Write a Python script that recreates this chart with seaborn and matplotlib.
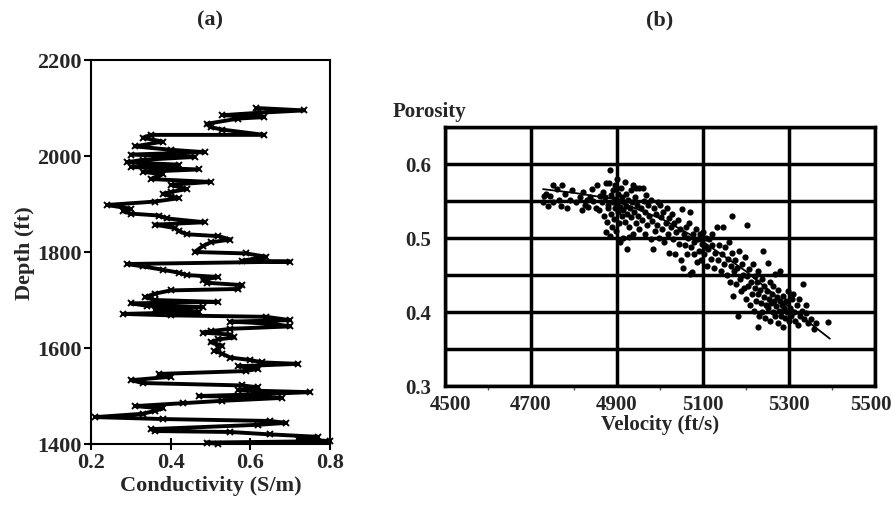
import matplotlib
matplotlib.use("Agg")
import matplotlib.pyplot as plt
import matplotlib.transforms as mtransforms
import seaborn as sns
import numpy as np
import pandas as pd
from matplotlib.ticker import MultipleLocator

# ---------------- Panel (a): conductivity log ----------------
depth = [2100, 2095, 2090, 2085, 2081, 2078, 2067, 2060, 2055, 2044, 2044, 2038,
         2030, 2020, 2013, 2008, 2003, 1998, 1992, 1987, 1982, 1977, 1972, 1967,
         1962, 1952, 1946, 1940, 1931, 1925, 1921, 1912, 1905, 1898, 1890, 1885,
         1880, 1876, 1870, 1862, 1857, 1850, 1844, 1837, 1833, 1826, 1820, 1812,
         1800, 1797, 1790, 1782, 1780, 1775, 1770, 1763, 1757, 1752, 1748, 1742,
         1736, 1731, 1723, 1720, 1713, 1706, 1700, 1696, 1693, 1688, 1685, 1680,
         1675, 1671, 1668, 1665, 1658, 1655, 1650, 1645, 1640, 1635, 1632, 1628,
         1622, 1618, 1612, 1605, 1600, 1594, 1588, 1580, 1575, 1570, 1567, 1562,
         1557, 1552, 1546, 1540, 1533, 1527, 1522, 1518, 1512, 1508, 1503, 1500,
         1496, 1490, 1485, 1479, 1474, 1469, 1463, 1456, 1452, 1448, 1444, 1440,
         1431, 1427, 1425, 1420, 1415, 1410, 1406, 1403, 1400]
conductivity = [0.615, 0.735, 0.62, 0.53, 0.635, 0.57, 0.49, 0.50, 0.53, 0.635, 0.35, 0.33,
                0.38, 0.31, 0.40, 0.485, 0.30, 0.46, 0.33, 0.29, 0.42, 0.30, 0.47, 0.33,
                0.38, 0.35, 0.50, 0.40, 0.44, 0.40, 0.38, 0.42, 0.36, 0.24, 0.30, 0.28,
                0.30, 0.37, 0.39, 0.485, 0.36, 0.41, 0.42, 0.44, 0.52, 0.55, 0.50, 0.48,
                0.46, 0.59, 0.64, 0.58, 0.70, 0.29, 0.33, 0.38, 0.42, 0.44, 0.52, 0.48,
                0.49, 0.58, 0.57, 0.40, 0.36, 0.335, 0.36, 0.52, 0.30, 0.34, 0.48, 0.36,
                0.47, 0.28, 0.40, 0.64, 0.70, 0.55, 0.66, 0.70, 0.55, 0.50, 0.48, 0.55,
                0.56, 0.52, 0.50, 0.53, 0.52, 0.51, 0.53, 0.55, 0.60, 0.63, 0.72, 0.57,
                0.62, 0.59, 0.37, 0.40, 0.30, 0.33, 0.58, 0.62, 0.57, 0.75, 0.60, 0.47,
                0.68, 0.53, 0.43, 0.31, 0.38, 0.36, 0.33, 0.21, 0.38, 0.65, 0.69, 0.62,
                0.35, 0.36, 0.55, 0.65, 0.77, 0.72, 0.80, 0.49, 0.52]

# ---------------- Panel (b): porosity vs velocity ----------------
velocity = [
    4728, 4730, 4735, 4745, 4751, 4740, 4760, 4770, 4772, 4783, 4790, 4795, 4765, 4778, 4752,
    4805, 4814, 4820, 4826, 4833, 4838, 4845, 4853, 4850, 4858, 4842, 4860, 4830, 4818,
    4865, 4868, 4870, 4872, 4875, 4877, 4878, 4880, 4882, 4884, 4884, 4885, 4887, 4888, 4890,
    4891, 4893, 4895, 4896, 4898, 4900, 4900, 4902, 4903, 4905, 4906, 4908, 4910, 4911, 4912,
    4914, 4915, 4917, 4918, 4920, 4921, 4923, 4924, 4926, 4928, 4930, 4932, 4933, 4935, 4937,
    4938, 4940, 4942, 4944, 4945, 4947, 4948, 4950, 4874, 4896, 4908, 4919, 4929,
    4952, 4955, 4957, 4960, 4962, 4964, 4966, 4968, 4970, 4972, 4975, 4978, 4980, 4982, 4984,
    4986, 4988, 4990, 4993, 4995, 4998, 5000, 5002, 5005, 5008, 5010, 5013, 5016, 5018, 5020,
    5022, 5025, 5028, 5030, 5033, 5036, 5038, 5041, 5044, 5047, 5049,
    5051, 5053, 5055, 5057, 5060, 5062, 5065, 5068, 5070, 5070, 5072, 5074, 5076, 5078, 5080,
    5083, 5085, 5088, 5090, 5092, 5095, 5098, 5100, 5102, 5105, 5108, 5110, 5112, 5115, 5118,
    5120, 5122, 5125, 5128, 5132, 5135, 5138, 5142, 5145, 5147, 5149,
    5152, 5155, 5158, 5160, 5162, 5165, 5167, 5168, 5170, 5172, 5175, 5177, 5180, 5181, 5183,
    5185, 5188, 5190, 5192, 5195, 5198, 5200, 5202, 5203, 5205, 5208, 5210, 5212, 5214, 5216,
    5218, 5220, 5222, 5224, 5226, 5228, 5228, 5229,
    5231, 5233, 5235, 5237, 5238, 5240, 5241, 5243, 5245, 5246, 5248, 5250, 5251, 5253, 5255,
    5256, 5258, 5260, 5262, 5263, 5265, 5267, 5268, 5270, 5272, 5274, 5275, 5277, 5279, 5280,
    5282, 5284, 5286, 5287, 5289, 5291, 5293, 5295, 5297, 5299,
    5302, 5305, 5308, 5312, 5315, 5318, 5323, 5326, 5330, 5333, 5336, 5340, 5345, 5350, 5357,
    5362, 5391, 5320, 5310, 5340]
porosity = [
    0.549, 0.557, 0.560, 0.557, 0.572, 0.543, 0.566, 0.543, 0.571, 0.541, 0.552, 0.565, 0.552, 0.560, 0.548,
    0.548, 0.556, 0.562, 0.545, 0.542, 0.555, 0.550, 0.571, 0.540, 0.538, 0.566, 0.557, 0.551, 0.538,
    0.548, 0.562, 0.530, 0.555, 0.575, 0.522, 0.545, 0.540, 0.575, 0.592, 0.503, 0.558, 0.533, 0.515, 0.548,
    0.565, 0.526, 0.553, 0.540, 0.510, 0.580, 0.545, 0.535, 0.560, 0.520, 0.550, 0.542, 0.568, 0.530, 0.555,
    0.500, 0.538, 0.548, 0.522, 0.560, 0.543, 0.485, 0.532, 0.552, 0.515, 0.540, 0.565, 0.528, 0.548, 0.572,
    0.505, 0.535, 0.555, 0.568, 0.520, 0.545, 0.530, 0.512, 0.508, 0.572, 0.495, 0.576, 0.502,
    0.568, 0.540, 0.525, 0.568, 0.550, 0.505, 0.535, 0.558, 0.518, 0.545, 0.530, 0.498, 0.552, 0.523, 0.485,
    0.540, 0.510, 0.533, 0.518, 0.548, 0.500, 0.545, 0.528, 0.512, 0.535, 0.495, 0.520, 0.540, 0.505, 0.527,
    0.480, 0.515, 0.532, 0.498, 0.520, 0.478, 0.508, 0.525, 0.492, 0.512, 0.470,
    0.539, 0.460, 0.505, 0.490, 0.515, 0.478, 0.500, 0.520, 0.535, 0.451, 0.488, 0.454, 0.505, 0.478, 0.495,
    0.512, 0.468, 0.498, 0.482, 0.505, 0.470, 0.492, 0.508, 0.478, 0.488, 0.500, 0.462, 0.485, 0.498, 0.472,
    0.490, 0.505, 0.460, 0.480, 0.515, 0.470, 0.490, 0.455, 0.478, 0.515, 0.465,
    0.488, 0.450, 0.472, 0.495, 0.440, 0.462, 0.530, 0.480, 0.422, 0.455, 0.470, 0.438, 0.460, 0.395, 0.482,
    0.445, 0.428, 0.465, 0.450, 0.432, 0.475, 0.418, 0.517, 0.448, 0.435, 0.458, 0.410, 0.440, 0.425, 0.465,
    0.402, 0.432, 0.448, 0.415, 0.440, 0.380, 0.425, 0.455,
    0.395, 0.430, 0.412, 0.445, 0.400, 0.482, 0.420, 0.435, 0.392, 0.410, 0.428, 0.466, 0.405, 0.418, 0.440,
    0.388, 0.412, 0.425, 0.400, 0.435, 0.415, 0.395, 0.452, 0.408, 0.420, 0.385, 0.430, 0.402, 0.415, 0.455,
    0.395, 0.410, 0.380, 0.422, 0.405, 0.392, 0.415, 0.400, 0.428, 0.388,
    0.405, 0.395, 0.418, 0.400, 0.388, 0.410, 0.418, 0.395, 0.402, 0.438, 0.390, 0.398, 0.385, 0.390, 0.377,
    0.385, 0.387, 0.382, 0.425, 0.410]

fit_velocity = [4728, 4800, 4890, 4930, 5007, 5100, 5200, 5300, 5395]
fit_porosity = [0.566, 0.561, 0.553, 0.543, 0.525, 0.495, 0.455, 0.407, 0.364]

vel_ticks = [4500, 4700, 4900, 5100, 5300, 5500]
vel_minor = [4600, 4800, 5000, 5200, 5400]
por_ticks = [0.3, 0.4, 0.5, 0.6]
por_minor = [0.35, 0.45, 0.55, 0.65]

# ---------------- Drawing ----------------
sns.set_theme(style="white")
plt.rcParams['font.family'] = ['Liberation Serif', 'DejaVu Serif']
plt.rcParams['font.weight'] = 'bold'
FS = 16
FSB = 15

fig = plt.figure(figsize=(8.93, 5.06), dpi=100)
W, H = 893.0, 506.0

# Panel (a)
axa = fig.add_axes([91 / W, 1 - 445 / H, (330 - 91) / W, (445 - 61) / H])
dfa = pd.DataFrame({"Conductivity": conductivity, "Depth": depth})
sns.lineplot(data=dfa, x="Conductivity", y="Depth", sort=False, estimator=None,
             color="black", lw=2.8, marker="x", markersize=5, mew=1.4,
             mec="black", ax=axa, clip_on=False)
axa.set_xlim(0.2, 0.8)
axa.set_ylim(1400, 2200)
axa.set_xticks([0.2, 0.4, 0.6, 0.8])
axa.set_xticklabels(["0.2", "0.4", "0.6", "0.8"])
axa.yaxis.set_major_locator(MultipleLocator(200))
axa.set_xlabel("Conductivity (S/m)", fontsize=FS, fontweight="bold", labelpad=2)
axa.set_ylabel("Depth (ft)", fontsize=FS, fontweight="bold", labelpad=1)
for s in axa.spines.values():
    s.set_color("black")
    s.set_linewidth(1.5)
axa.tick_params(axis="both", which="major", direction="out", length=5, width=1.5,
                color="black", labelsize=FS, pad=2, bottom=True, left=True)
axa.tick_params(axis="x", direction="inout", length=8)
for lab in axa.get_xticklabels() + axa.get_yticklabels():
    lab.set_fontweight("bold")
axa.grid(False)

# Panel (b)
axb = fig.add_axes([445 / W, 1 - 387 / H, (875 - 445) / W, (387 - 128) / H])
dfb = pd.DataFrame({"Velocity": velocity, "Porosity": porosity})
sns.scatterplot(data=dfb, x="Velocity", y="Porosity", color="black", s=20,
                linewidth=0, ax=axb, zorder=3)
dff = pd.DataFrame({"v": fit_velocity, "p": fit_porosity})
sns.lineplot(data=dff, x="v", y="p", color="black", lw=1.3, ax=axb, zorder=4)
axb.set_xlim(4500, 5500)
axb.set_ylim(0.3, 0.65)
axb.set_xticks(vel_ticks)
axb.set_xticks(vel_minor, minor=True)
axb.set_xticklabels([str(v) for v in vel_ticks])
axb.set_yticks(por_ticks)
axb.set_yticks(por_minor, minor=True)
axb.set_yticklabels(["0.3", "0.4", "0.5", "0.6"])
axb.grid(True, which="both", axis="y", color="black", lw=2.5)
axb.grid(True, which="major", axis="x", color="black", lw=2.5)
axb.set_axisbelow(True)
for s in axb.spines.values():
    s.set_color("black")
    s.set_linewidth(2.5)
axb.tick_params(axis="y", which="both", length=0, labelsize=FSB, pad=10)
axb.tick_params(axis="x", which="major", length=0, labelsize=FSB, pad=6)
axb.tick_params(axis="x", which="minor", direction="out", length=3, width=1,
                color="#555555", bottom=True)
for lab in axb.get_xticklabels() + axb.get_yticklabels():
    lab.set_fontweight("bold")
# nudge end labels so they don't collide with the "0.3" label / figure edge
xl = axb.get_xticklabels()
xl[0].set_transform(xl[0].get_transform() + mtransforms.ScaledTranslation(6 / 100, 0, fig.dpi_scale_trans))
xl[-1].set_transform(xl[-1].get_transform() + mtransforms.ScaledTranslation(-4 / 100, 0, fig.dpi_scale_trans))
axb.set_xlabel("Velocity (ft/s)", fontsize=FSB, fontweight="bold", labelpad=0)
axb.set_ylabel("")

fig.text(393 / W, 1 - 112 / H, "Porosity", fontsize=FSB, fontweight="bold",
         ha="left", va="center")
fig.text(210 / W, 1 - 20 / H, "(a)", fontsize=FS, fontweight="bold",
         ha="center", va="center")
fig.text(660 / W, 1 - 20 / H, "(b)", fontsize=FS, fontweight="bold",
         ha="center", va="center")

fig.savefig("out.png", dpi=100, facecolor="white")
